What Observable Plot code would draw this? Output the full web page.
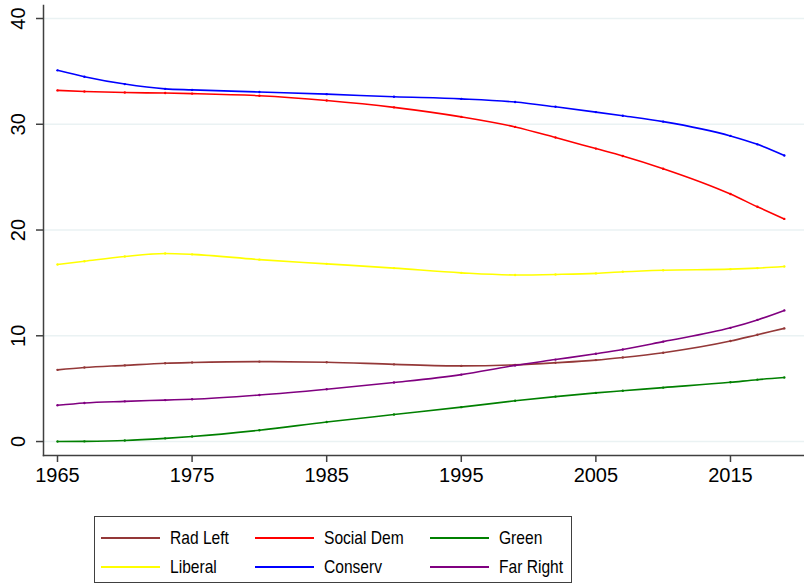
<!DOCTYPE html>
<html>
<head>
<meta charset="utf-8">
<script src="https://cdn.jsdelivr.net/npm/d3@7"></script>
<script src="https://cdn.jsdelivr.net/npm/@observablehq/plot@0.6"></script>
<style>
  html, body { margin: 0; padding: 0; background: #fff; }
  #wrap { position: relative; width: 804px; height: 585px; font-family: "Liberation Sans", Arial, sans-serif; }
  #legend { position: absolute; left: 94px; top: 516px; width: 478px; height: 67px; border: 1px solid #404040; box-sizing: border-box; }
  .item { position: absolute; height: 20px; }
  .sw { position: absolute; top: 9px; width: 59px; height: 2px; }
  .lab { position: absolute; left: 69px; top: -1px; font-family: "Liberation Sans", Arial, sans-serif; font-size: 19px; white-space: nowrap; color: #000; transform: scaleX(0.82); transform-origin: left center; }
</style>
</head>
<body>
<div id="wrap">
  <div id="chart"></div>
  <div id="legend"></div>
</div>
<script>
const years = [1965,1967,1970,1973,1975,1980,1985,1990,1995,1999,2002,2005,2007,2010,2015,2017,2019];
const radLeft   = [6.78,7.0,7.2,7.4,7.47,7.56,7.5,7.3,7.15,7.25,7.45,7.7,7.95,8.4,9.5,10.1,10.7];
const socialDem = [33.2,33.1,33.0,32.95,32.9,32.7,32.25,31.6,30.7,29.75,28.75,27.7,27.0,25.8,23.4,22.2,21.05];
const green     = [0,0.02,0.1,0.3,0.47,1.07,1.85,2.55,3.25,3.85,4.25,4.6,4.8,5.1,5.6,5.85,6.05];
const liberal   = [16.74,17.05,17.5,17.78,17.7,17.2,16.8,16.4,15.95,15.75,15.8,15.9,16.05,16.2,16.3,16.4,16.55];
const conserv   = [35.1,34.5,33.8,33.35,33.25,33.05,32.85,32.6,32.4,32.1,31.65,31.15,30.8,30.25,28.9,28.1,27.05];
const farRight  = [3.43,3.65,3.8,3.92,4.0,4.4,4.95,5.58,6.33,7.2,7.75,8.3,8.7,9.45,10.75,11.5,12.4];

const seriesNames = ["Rad Left","Social Dem","Green","Liberal","Conserv","Far Right"];
const seriesColors = ["#943838","#ff0000","#008000","#ffff00","#0000ff","#800080"];
const seriesValues = [radLeft, socialDem, green, liberal, conserv, farRight];

const yTicks = [0,10,20,30,40];
const xTicks = [1965,1975,1985,1995,2005,2015];

const data = [];
seriesNames.forEach((name, i) => {
  years.forEach((yr, j) => data.push({series: name, year: yr, value: seriesValues[i][j]}));
});

const axisColor = "#404040";
const chart = Plot.plot({
  width: 804,
  height: 510,
  marginLeft: 43,
  marginRight: 0,
  marginTop: 5,
  marginBottom: 55,
  x: {domain: [1963.96, 2020.5]},
  y: {domain: [-1.32, 41.23]},
  color: {domain: seriesNames, range: seriesColors},
  style: {fontFamily: "'Liberation Sans', Arial, sans-serif", background: "#fff"},
  marks: [
    Plot.ruleY(yTicks, {stroke: "#eaf2f3", strokeWidth: 1.5}),
    Plot.line(data, {x: "year", y: "value", z: "series", stroke: "series", strokeWidth: 1.6, curve: "monotone-x"}),
    Plot.dot(data, {x: "year", y: "value", fill: "series", r: 1.2}),
    Plot.frame({anchor: "left", stroke: axisColor, strokeWidth: 1.5}),
    Plot.frame({anchor: "bottom", stroke: axisColor, strokeWidth: 1.5}),
    Plot.axisY(yTicks, {tickSize: 7, tickPadding: 0, stroke: axisColor, strokeWidth: 1.5, text: null, label: null}),
    Plot.text(yTicks, {y: d => d, text: d => String(d), frameAnchor: "left", dx: -25, rotate: -90, fontSize: 20, fill: "#000", textAnchor: "middle"}),
    Plot.axisX(xTicks, {tickSize: 7, tickPadding: 5, stroke: axisColor, strokeWidth: 1.5, fontSize: 20, fill: "#000", tickFormat: d => String(d), label: null})
  ]
});
document.getElementById("chart").appendChild(chart);

const legend = document.getElementById("legend");
const colX = [6, 160, 335];
const rowY = [11, 40];
seriesNames.forEach((name, i) => {
  const item = document.createElement("div");
  item.className = "item";
  item.style.left = colX[i % 3] + "px";
  item.style.top = rowY[Math.floor(i / 3)] + "px";
  const sw = document.createElement("div");
  sw.className = "sw";
  sw.style.background = seriesColors[i];
  const lab = document.createElement("div");
  lab.className = "lab";
  lab.textContent = name;
  item.appendChild(sw);
  item.appendChild(lab);
  legend.appendChild(item);
});
</script>
</body>
</html>
